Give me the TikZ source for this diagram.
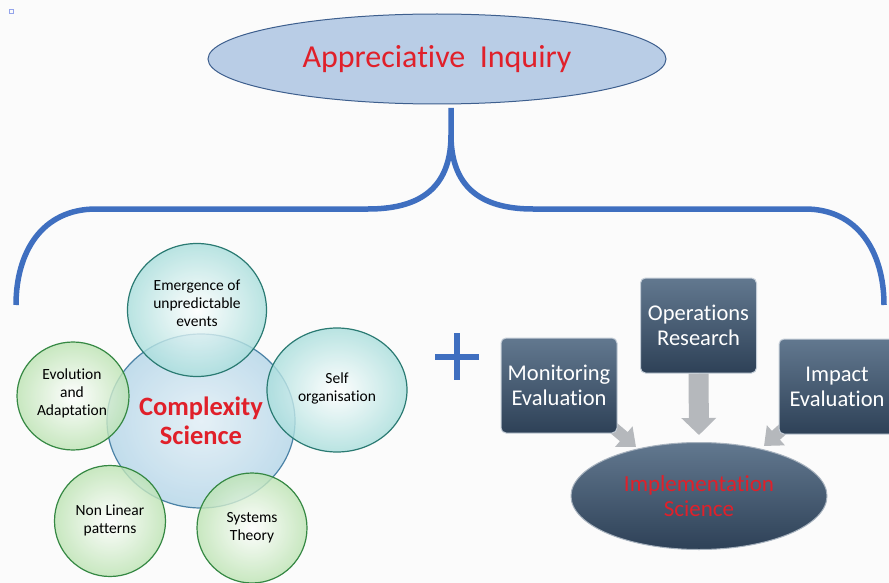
\documentclass[tikz,border=0pt]{standalone}
\usepackage{fontspec}
\setmainfont{Carlito}[Ligatures={NoCommon}]
\usetikzlibrary{shapes.geometric,arrows.meta,backgrounds}

\definecolor{pagebg}{HTML}{FBFBFB}
\definecolor{bracecol}{HTML}{3F6FC0}
\definecolor{aifill}{HTML}{B9CDE6}
\definecolor{ailine}{HTML}{3E5F8E}
\definecolor{titlered}{HTML}{E0202A}
\definecolor{tealline}{HTML}{2A7A72}
\definecolor{tealfill}{HTML}{A9DEDC}
\definecolor{greenline}{HTML}{358843}
\definecolor{greenfill}{HTML}{BCE3B2}
\definecolor{coreline}{HTML}{4A82A6}
\definecolor{corefill}{HTML}{B3D5E8}
\definecolor{boxtop}{HTML}{62788F}
\definecolor{boxbot}{HTML}{2E4157}
\definecolor{boxedge}{HTML}{C5CED8}
\definecolor{arrowgray}{HTML}{B5B8BC}

\tikzset{
  bubble/.style={ellipse, inner sep=0pt, line width=1.2pt, align=center,
    fill opacity=0.8, text opacity=1},
  tealbubble/.style={bubble, draw=tealline, inner color=white, outer color=tealfill},
  greenbubble/.style={bubble, draw=greenline, inner color=white, outer color=greenfill},
  corebubble/.style={bubble, draw=coreline, inner color=white!60!corefill, outer color=corefill},
  bubbletext/.style={align=center, font=\fontsize{15.5}{18}\selectfont},
  coretext/.style={align=center, text=titlered, font=\bfseries\fontsize{26.5}{29}\selectfont},
  slatebox/.style={rectangle, rounded corners=5pt, draw=boxedge, line width=1pt,
    top color=boxtop, bottom color=boxbot, text=white, align=center,
    minimum width=116pt, minimum height=95pt, inner sep=0pt,
    font=\fontsize{22.5}{25}\selectfont},
  blockarrow/.style={draw=arrowgray, line width=#1},
  bracestroke/.style={draw=bracecol, line width=5.5pt}
}

\begin{document}
\begin{tikzpicture}[x=1pt,y=-1pt]
\begin{scope}[on background layer]
  \fill[pagebg] (0,0) rectangle (889,583);
\end{scope}
\useasboundingbox (0,0) rectangle (889,583);

% small marker in the corner
\draw[aifill!80!blue, line width=0.6pt] (9,9) rectangle (13,13);

% title
\node[ellipse, draw=ailine, fill=aifill, line width=1pt, minimum width=458pt,
      minimum height=90pt, inner sep=0pt, text=titlered,
      font=\fontsize{32}{32}\selectfont] (ai) at (437,59) {\raisebox{-3pt}{Appreciative\ \ Inquiry}};

% brace grouping the two halves
\coordinate (stemtop) at (451,108);
\coordinate (fork) at (451,135);
\coordinate (leftend) at (16,305);
\coordinate (rightend) at (884,305);
\draw[bracestroke] (stemtop) -- (fork)
  .. controls (451,192) and (415,209) .. (368,209) -- (96,209)
  .. controls (42,209) and (16,252) .. (leftend);
\draw[bracestroke] (fork)
  .. controls (451,192) and (487,209) .. (533,209) -- (805,209)
  .. controls (858,209) and (884,252) .. (rightend);

% complexity science cluster
\node[corebubble, minimum width=188pt, minimum height=174pt] (core) at (201,421) {};
\node[tealbubble, minimum width=139pt, minimum height=133pt] (emerg) at (197,310) {};
\node[tealbubble, minimum width=140pt, minimum height=124pt] (selforg) at (337,390) {};
\node[greenbubble, minimum width=112pt, minimum height=108pt] (evol) at (73,396) {};
\node[greenbubble, minimum width=111pt, minimum height=111pt] (nonlin) at (110,521) {};
\node[greenbubble, minimum width=110pt, minimum height=110pt] (systems) at (252,528) {};

\node[coretext] at (201,421) {Complexity\\Science};
\node[bubbletext] at (197,303) {Emergence of\\unpredictable\\events};
\node[bubbletext] at (337,388) {Self\\organisation};
\node[bubbletext] at (72,393) {Evolution\\and\\Adaptation};
\node[bubbletext] at (110,520) {Non Linear\\patterns};
\node[bubbletext] at (252,528) {Systems\\Theory};

% plus sign
\draw[draw=bracecol, line width=6pt] (435,357) -- (479,357) (457,333) -- (457,380);

% implementation science cluster
\node[slatebox] (mon) at (559,385.5) {Monitoring\\Evaluation};
\node[slatebox] (ops) at (698.5,325.5) {Operations\\Research};
\node[slatebox] (imp) at (837,386.5) {Impact\\Evaluation};
\node[ellipse, draw=boxedge!80!boxbot, line width=1pt, top color=boxtop, bottom color=boxbot,
      minimum width=256pt, minimum height=107pt, inner sep=0pt, align=center,
      text=titlered, font=\fontsize{23}{25}\selectfont] (impl) at (699,496) {Implementation\\Science};

\coordinate (montip) at (636,447);
\coordinate (opstip) at (699,435);
\coordinate (imptip) at (764,446);
\begin{scope}[on background layer]
  \draw[blockarrow=12pt, -{Triangle[length=16pt 0 0, width=26pt 0 0]}] (603,419) -- (montip);
  \draw[blockarrow=20pt, -{Triangle[length=17pt 0 0, width=34pt 0 0]}] (ops.south) -- (opstip);
  \draw[blockarrow=12pt, -{Triangle[length=16pt 0 0, width=26pt 0 0]}] (794,419) -- (imptip);
\end{scope}
\end{tikzpicture}
\end{document}
